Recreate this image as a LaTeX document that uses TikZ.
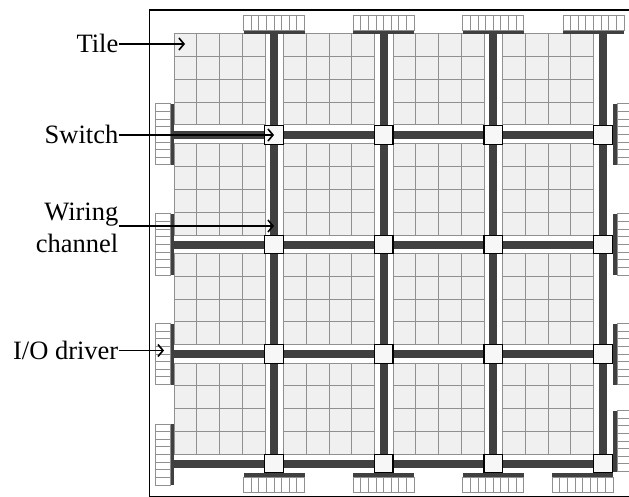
\documentclass[tikz,border=0pt]{standalone}
\usepackage{fontspec}
\setmainfont{Liberation Serif}
\usetikzlibrary{arrows.meta, positioning}
\definecolor{cwire}{HTML}{404040}
\definecolor{cgrid}{HTML}{909090}
\definecolor{ctile}{HTML}{F0F0F0}
\definecolor{cpad}{HTML}{909090}
\definecolor{cswitch}{HTML}{F7F7F7}
\tikzset{
  tilecell/.style={draw=cgrid, fill=ctile, line width=1pt},
  padcell/.style={draw=cpad, fill=white, line width=1pt},
  padbar/.style={fill=cwire},
  wire/.style={draw=cwire, line width=8pt},
  switchbox/.style={draw=black, fill=cswitch, line width=1.2pt, minimum size=18.5pt, inner sep=0pt},
  label/.style={font=\fontsize{26.5}{32}\selectfont, align=right, inner sep=0pt, anchor=east, text height=18pt, text depth=0pt},
  arrow/.style={-{Straight Barb[length=5pt, width=12pt]}, draw=black, line width=1.6pt},
}
\begin{document}
\begin{tikzpicture}[x=1pt, y=-1pt]
  \clip (0,0) rectangle (629,497);
  \fill[white] (0,0) rectangle (629,497);
  \draw[black, line width=1.3pt] (149.5,10) rectangle (650,496.5);
  % tiles
  \foreach \x in {174,283.5,393,502.7}
    \foreach \y in {34,144,253.5,363}
      \foreach \i in {0,...,3}
        \foreach \j in {0,...,3}
          \draw[tilecell] ({\x+\i*22.75},{\y+\j*22.75}) rectangle +(22.75,22.75);
  % wiring channels
  \foreach \x in {274,383.7,493.3,603}
    \draw[wire] (\x,34) -- (\x,463.5);
  \foreach \y in {135,244.5,354,463.5}
    \draw[wire] (174,\y) -- (603,\y);
  % switches
  \foreach \x [count=\c] in {274,383.7,493.3,603}
    \foreach \y [count=\r] in {135,244.5,354,463.5}
      \node[switchbox] (sw\c\r) at (\x,\y) {};
  % top and bottom drivers
  \foreach \x in {274,383.7,493.3,593.5} {
    \fill[padbar] (\x-30.5,30.5) rectangle (\x+30.5,34);
    \foreach \k in {0,...,7}
      \draw[padcell] ({\x-30.5+\k*7.625},15.5) rectangle +(7.625,15);
  }
  \foreach \x in {274,383.7,493.3,582.7} {
    \fill[padbar] (\x-30.5,472.7) rectangle (\x+30.5,477);
    \foreach \k in {0,...,7}
      \draw[padcell] ({\x-30.5+\k*7.625},477) rectangle +(7.625,15.5);
  }
  % left and right drivers
  \foreach \y in {134.5,244.5,354,454.5} {
    \fill[padbar] (170,\y-30.5) rectangle (174,\y+30.5);
    \foreach \k in {0,...,7}
      \draw[padcell] (155,{\y-30.5+\k*7.625}) rectangle +(15,7.625);
  }
  \foreach \y in {134.5,244.5,354,441} {
    \fill[padbar] (612.5,\y-30.5) rectangle (617,\y+30.5);
    \foreach \k in {0,...,7}
      \draw[padcell] (617,{\y-30.5+\k*7.625}) rectangle +(15,7.625);
  }
  % labels
  \coordinate (tiletip) at (185,44);
  \coordinate (channeltip) at (274,226);
  \coordinate (drivertip) at (164,350.5);
  \node[label] (tile) at (118.5,44) {Tile};
  \node[label] (switch) at (118.5,135) {Switch};
  \node[label, text height=, text depth=] (channel) at (118.5,227.5) {Wiring\\channel};
  \node[label] (driver) at (118.5,350.5) {I/O driver};
  \draw[arrow] (tile.east) -- (tiletip);
  \draw[arrow] (switch.east) -- (sw11.center);
  \draw[arrow] (channel.east |- channeltip) -- (channeltip);
  \draw[arrow] (driver.east) -- (drivertip);
\end{tikzpicture}
\end{document}
